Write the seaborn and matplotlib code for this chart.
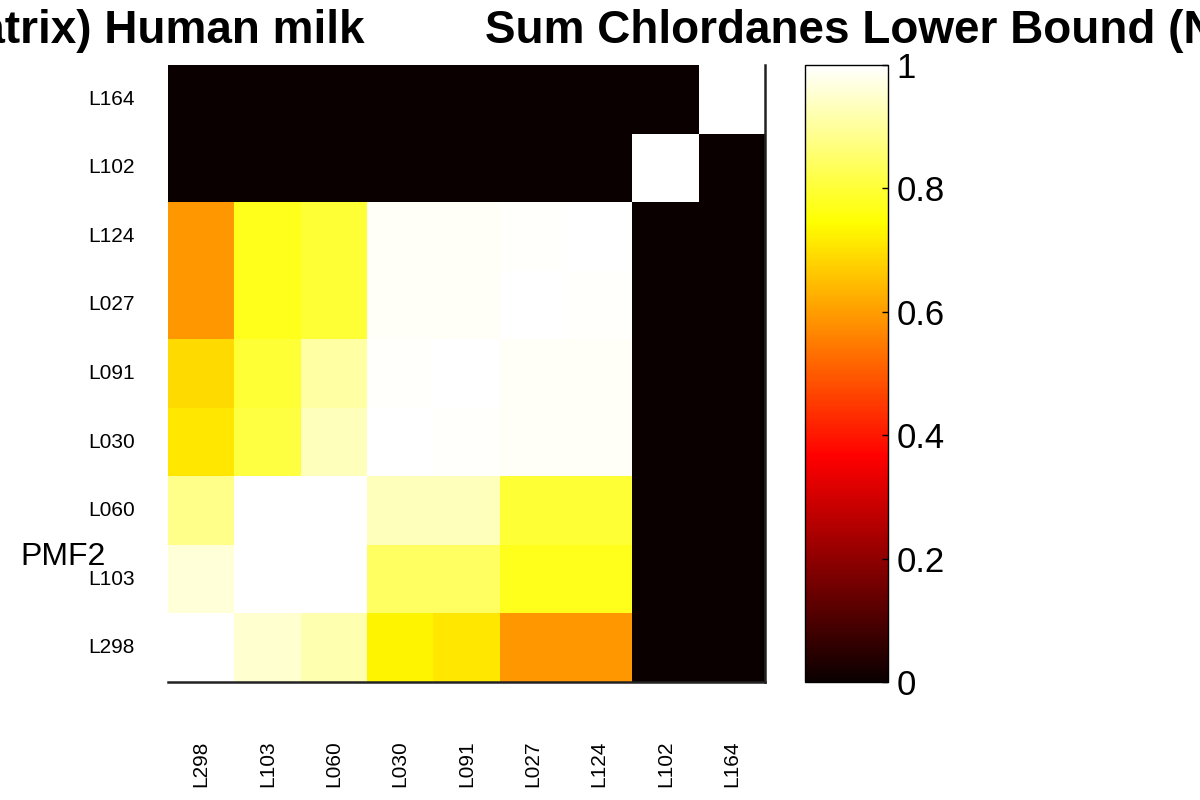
import matplotlib
matplotlib.use("Agg")
import matplotlib.pyplot as plt
import seaborn as sns
import pandas as pd

# sample labels, rows top to bottom and columns left to right
row_labels = ['L164', 'L102', 'L124', 'L027', 'L091', 'L030', 'L060', 'L103', 'L298']
col_labels = ['L298', 'L103', 'L060', 'L030', 'L091', 'L027', 'L124', 'L102', 'L164']

# correlation values, one list per row
r_L164 = [0.00, 0.00, 0.00, 0.00, 0.00, 0.00, 0.00, 0.00, 1.00]
r_L102 = [0.00, 0.00, 0.00, 0.00, 0.00, 0.00, 0.00, 1.00, 0.00]
r_L124 = [0.59, 0.77, 0.80, 0.99, 0.99, 0.995, 1.00, 0.00, 0.00]
r_L027 = [0.59, 0.77, 0.80, 0.99, 0.99, 1.00, 0.995, 0.00, 0.00]
r_L091 = [0.69, 0.80, 0.91, 0.995, 1.00, 0.99, 0.99, 0.00, 0.00]
r_L030 = [0.71, 0.81, 0.93, 1.00, 0.995, 0.99, 0.99, 0.00, 0.00]
r_L060 = [0.88, 1.00, 1.00, 0.93, 0.93, 0.80, 0.80, 0.00, 0.00]
r_L103 = [0.96, 1.00, 1.00, 0.84, 0.84, 0.77, 0.77, 0.00, 0.00]
r_L298 = [1.00, 0.95, 0.92, 0.73, 0.71, 0.59, 0.59, 0.00, 0.00]

cbar_ticks = [0, 0.2, 0.4, 0.6, 0.8, 1]

df = pd.DataFrame([r_L164, r_L102, r_L124, r_L027, r_L091, r_L030, r_L060, r_L103, r_L298],
                  index=row_labels, columns=col_labels)

plt.rcParams['font.family'] = ['Liberation Sans', 'DejaVu Sans']

fig = plt.figure(figsize=(12, 8), dpi=100)
ax = fig.add_axes([168 / 1200, 1 - 682 / 800, 597 / 1200, 617 / 800])
cax = fig.add_axes([805 / 1200, 1 - 682 / 800, 83 / 1200, 617 / 800])

sns.heatmap(df, cmap='hot', vmin=0, vmax=1, ax=ax, cbar_ax=cax,
            cbar_kws={'ticks': cbar_ticks})

# axes: only bottom and right lines show, no tick marks
for side in ['bottom', 'right']:
    ax.spines[side].set_visible(True)
    ax.spines[side].set_color('#222222')
    ax.spines[side].set_linewidth(1.8)
ax.tick_params(axis='both', length=0)
ax.tick_params(axis='y', pad=24)
ax.tick_params(axis='x', pad=42)
ax.set_yticklabels(row_labels, rotation=0, fontsize=15)
ax.set_xticklabels(col_labels, rotation=90, fontsize=15)
ax.set_xlabel('')
ax.set_ylabel('PMF2', rotation=0, fontsize=23, ha='center', va='center')
ax.yaxis.set_label_coords(-0.176, 0.203)

# colorbar
cbar = ax.collections[0].colorbar
cbar.outline.set_visible(True)
cbar.outline.set_edgecolor('black')
cbar.outline.set_linewidth(1.0)
cax.tick_params(labelsize=25, direction='in', length=4, width=1, pad=6)
cbar.set_ticklabels(['0', '0.2', '0.4', '0.6', '0.8', '1'])

# title, cut off by the figure edges as in the source
fig.text(365 / 1200, 1 - 43 / 800, '(Correlation matrix) Human milk',
         ha='right', va='baseline', fontsize=33, fontweight='bold')
fig.text(485 / 1200, 1 - 43 / 800, 'Sum Chlordanes Lower Bound (ND=0)',
         ha='left', va='baseline', fontsize=33, fontweight='bold')

fig.savefig('out.png', dpi=100)
